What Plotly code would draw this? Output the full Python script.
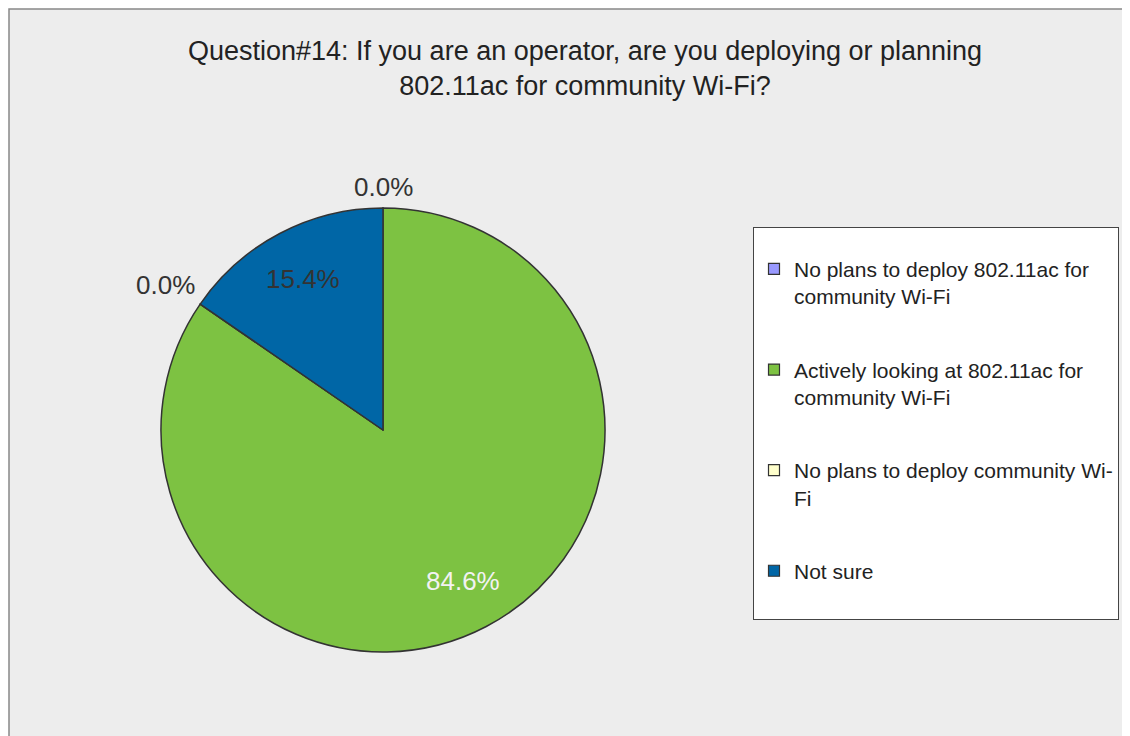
import math
import plotly.graph_objects as go

# ---- data ----
categories = [
    "No plans to deploy 802.11ac for community Wi-Fi",
    "Actively looking at 802.11ac for community Wi-Fi",
    "No plans to deploy community Wi-Fi",
    "Not sure",
]
legend_labels = [
    "No plans to deploy 802.11ac for<br>community Wi-Fi",
    "Actively looking at 802.11ac for<br>community Wi-Fi",
    "No plans to deploy community Wi-<br>Fi",
    "Not sure<br> ",
]
values = [0.0, 84.6, 0.0, 15.4]
colors = ["#9999FF", "#7DC242", "#FFFFCC", "#0066A6"]
text_colors = ["#333333", "#F2F2F2", "#333333", "#333333"]
title_text = ("Question#14: If you are an operator, are you deploying or planning<br>"
              "802.11ac for community Wi-Fi?")

# ---- layout geometry (pixels, figure coordinates; page has an 8px body margin) ----
W, H = 1130, 736
OFF = 8
cx, cy, r = 383 - OFF, 430 - OFF, 222
FONT = "Liberation Sans, Arial, sans-serif"

fig = go.Figure()
fig.add_trace(go.Pie(
    labels=categories,
    values=values,
    sort=False,
    direction="clockwise",
    rotation=0,
    marker=dict(colors=colors, line=dict(color="#333333", width=1.5)),
    textinfo="none",
    showlegend=False,
    domain=dict(x=[(cx - r) / W, (cx + r) / W], y=[1 - (cy + r) / H, 1 - (cy - r) / H]),
    hoverinfo="label+percent",
))

# legend entries (one per category) so spacing between entries can be set
for i, (lab, col) in enumerate(zip(legend_labels, colors)):
    fig.add_trace(go.Scatter(
        x=[None], y=[None], mode="markers", name=lab, legendgroup=str(i),
        marker=dict(symbol="square", size=11, color=col, line=dict(color="#333333", width=1.2)),
        showlegend=True, hoverinfo="skip",
    ))

# data labels placed from the slice angles
annotations = []
total = sum(values)
cum = 0.0
for v, tc in zip(values, text_colors):
    if v == 0:
        ang = 2 * math.pi * cum / total
        dx, dy = math.sin(ang), -math.cos(ang)
        px = cx + dx * (r + 4)
        py = cy + dy * (r + 4)
        if abs(dx) < 0.3:
            xa, ya = "center", "bottom"
        elif dx < 0:
            xa, ya = "right", "bottom"
        else:
            xa, ya = "left", "bottom"
        annotations.append(dict(
            x=px / W, y=1 - py / H, xref="paper", yref="paper",
            text=f"{v:.1f}%", showarrow=False, xanchor=xa, yanchor=ya,
            font=dict(size=26, color="#333333", family=FONT),
        ))
    else:
        ang = 2 * math.pi * (cum + v / 2) / total
        dx, dy = math.sin(ang), -math.cos(ang)
        px = cx + dx * r * 0.77
        py = cy + dy * r * 0.77
        annotations.append(dict(
            x=px / W, y=1 - py / H, xref="paper", yref="paper",
            text=f"{v:.1f}%", showarrow=False, xanchor="center", yanchor="middle",
            font=dict(size=26, color=tc, family=FONT),
        ))
    cum += v

fig.update_layout(
    template="none",
    width=W, height=H,
    margin=dict(l=0, r=0, t=0, b=0),
    paper_bgcolor="white",
    plot_bgcolor="rgba(0,0,0,0)",
    font=dict(family=FONT, color="#333333"),
    xaxis=dict(visible=False),
    yaxis=dict(visible=False),
    title=dict(text=title_text, x=(585 - OFF) / W, xanchor="center", y=1 - 52 / H, yanchor="top",
               font=dict(size=27, color="#222222", family=FONT)),
    showlegend=True,
    legend=dict(
        x=(753 - OFF) / W, xanchor="left", y=1 - (227 - OFF) / H, yanchor="top",
        bgcolor="white", bordercolor="#444444", borderwidth=1,
        font=dict(size=21, color="#222222", family=FONT),
        valign="top",
        title=dict(text=" ", font=dict(size=16)),
        traceorder="grouped",
        tracegroupgap=43,
    ),
    annotations=annotations,
    shapes=[dict(type="rect", xref="paper", yref="paper",
                 x0=1 / W, x1=1.05, y0=-0.05, y1=1 - 1 / H,
                 fillcolor="#EDEDED", line=dict(color="#888888", width=1.5), layer="below")],
)

fig.write_html("out.html")
